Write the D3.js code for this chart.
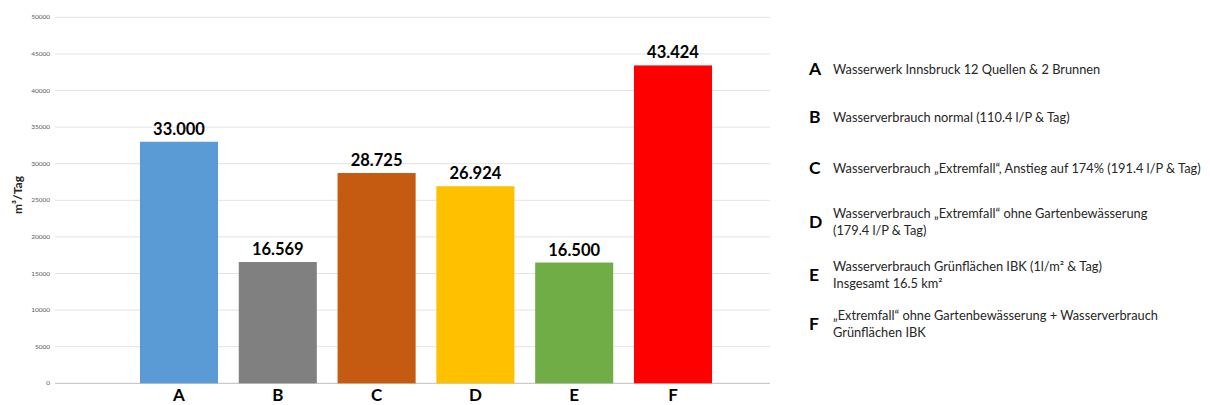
<!DOCTYPE html>
<html>
<head>
<meta charset="utf-8">
<script src="https://cdn.jsdelivr.net/npm/d3@7"></script>
<style>
  body { margin: 0; background: #fff; }
  svg { display: block; font-family: Lato, "Open Sans", sans-serif; }
</style>
</head>
<body>
<svg id="chart" width="1210" height="405"></svg>
<script>
// chart data
const categories = ['A', 'B', 'C', 'D', 'E', 'F'];
const values = [33000, 16569, 28725, 26924, 16500, 43424];
const valueLabels = ['33.000', '16.569', '28.725', '26.924', '16.500', '43.424'];
const barColors = ['#5b9bd5', '#808080', '#c55a11', '#ffc000', '#70ad47', '#ff0000'];
const yTicks = [0, 5000, 10000, 15000, 20000, 25000, 30000, 35000, 40000, 45000, 50000];
const yTitle = 'm³/Tag';
// legend: one entry per category, lines of text
const legendLines = [
  ['Wasserwerk Innsbruck 12 Quellen & 2 Brunnen'],
  ['Wasserverbrauch normal (110.4 l/P & Tag)'],
  ['Wasserverbrauch „Extremfall“, Anstieg auf 174% (191.4 l/P & Tag)'],
  ['Wasserverbrauch „Extremfall“ ohne Gartenbewässerung', '(179.4 l/P & Tag)'],
  ['Wasserverbrauch Grünflächen IBK (1l/m² & Tag)', 'Insgesamt 16.5 km²'],
  ['„Extremfall“ ohne Gartenbewässerung + Wasserverbrauch', 'Grünflächen IBK']
];
const legendCenters = [69, 117, 168, 222, 275, 324];

const svg = d3.select('#chart');

// scales
const y = d3.scaleLinear().domain([0, 50000]).range([383.3, 17.3]);
const x = d3.scaleBand().domain(categories).range([129.6, 722.4]).paddingInner(0.21).paddingOuter(0.105);

// gridlines
svg.append('g')
  .selectAll('line')
  .data(yTicks)
  .join('line')
    .attr('x1', 55)
    .attr('x2', 770)
    .attr('y1', d => y(d))
    .attr('y2', d => y(d))
    .attr('stroke', d => d === 0 ? '#bfbfbf' : '#e3e3e3')
    .attr('stroke-width', 1);

// y tick labels
svg.append('g')
  .selectAll('text')
  .data(yTicks)
  .join('text')
    .attr('x', 50)
    .attr('y', d => y(d) + 2)
    .attr('text-anchor', 'end')
    .attr('font-size', '6.5px')
    .attr('fill', '#595959')
    .text(d => d);

// y axis title
svg.append('text')
  .attr('transform', 'translate(22,195) rotate(-90)')
  .attr('text-anchor', 'middle')
  .attr('font-size', '12px')
  .attr('font-weight', 'bold')
  .attr('fill', '#262626')
  .text(yTitle);

// bars
svg.append('g')
  .selectAll('rect')
  .data(values)
  .join('rect')
    .attr('x', (d, i) => x(categories[i]))
    .attr('y', d => y(d))
    .attr('width', x.bandwidth())
    .attr('height', d => y(0) - y(d))
    .attr('fill', (d, i) => barColors[i]);

// value labels
svg.append('g')
  .selectAll('text')
  .data(values)
  .join('text')
    .attr('x', (d, i) => x(categories[i]) + x.bandwidth() / 2)
    .attr('y', d => y(d) - 7)
    .attr('text-anchor', 'middle')
    .attr('font-size', '16.5px')
    .attr('font-weight', 'bold')
    .attr('fill', '#000')
    .text((d, i) => valueLabels[i]);

// category labels
svg.append('g')
  .selectAll('text')
  .data(categories)
  .join('text')
    .attr('x', d => x(d) + x.bandwidth() / 2)
    .attr('y', 401)
    .attr('text-anchor', 'middle')
    .attr('font-size', '17px')
    .attr('font-weight', 'bold')
    .attr('fill', '#000')
    .text(d => d);

// legend
const legend = svg.append('g')
  .selectAll('g')
  .data(categories)
  .join('g');

legend.append('text')
  .attr('x', 809)
  .attr('y', (d, i) => legendCenters[i] + 6)
  .attr('font-size', '17.5px')
  .attr('font-weight', 'bold')
  .attr('fill', '#000')
  .text(d => d);

legend.each(function(d, i) {
  const lines = legendLines[i];
  const top = legendCenters[i] - (lines.length - 1) * 8.5;
  d3.select(this)
    .selectAll('text.line')
    .data(lines)
    .join('text')
      .attr('class', 'line')
      .attr('x', 833)
      .attr('y', (t, j) => top + j * 17 + 4.5)
      .attr('font-size', '12.8px')
      .attr('fill', '#262626')
      .text(t => t);
});
</script>
</body>
</html>
